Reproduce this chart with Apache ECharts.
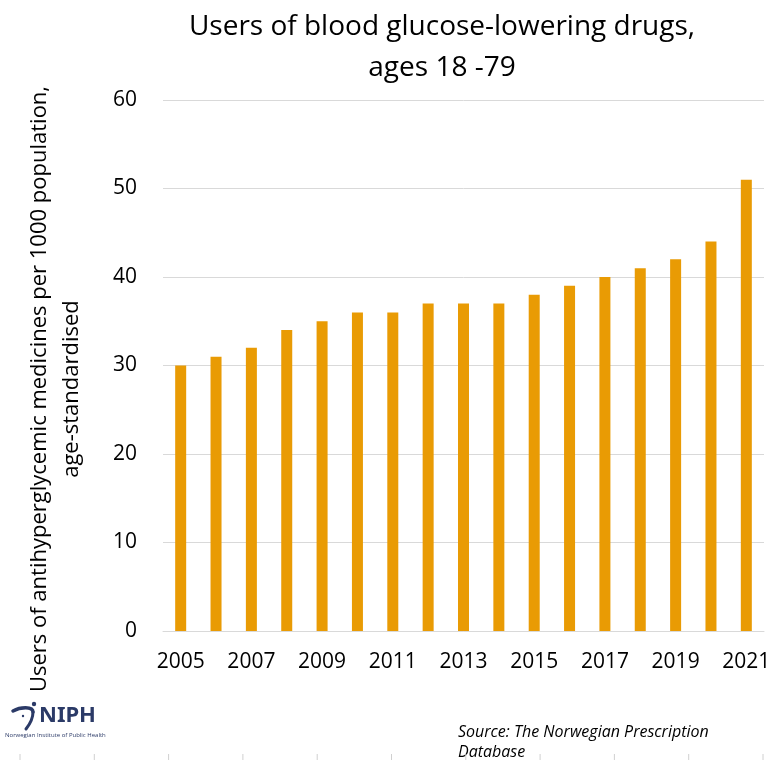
<!DOCTYPE html>
<html>
<head>
<meta charset="utf-8">
<script src="https://cdn.jsdelivr.net/npm/echarts@6/dist/echarts.min.js"></script>
<style>
html,body{margin:0;padding:0;background:#fff;}
#chart{width:777px;height:762px;}
</style>
</head>
<body>
<div id="chart"></div>
<script>
const years = ['2005','2006','2007','2008','2009','2010','2011','2012','2013','2014','2015','2016','2017','2018','2019','2020','2021'];
const users = [30,31,32,34,35,36,36,37,37,37,38,39,40,41,42,44,51];
const yTicks = [0,10,20,30,40,50,60];

const FONT = '"Open Sans", "Noto Sans", sans-serif';
const chart = echarts.init(document.getElementById('chart'));

const ticks = [];
for (let i = 0; i < 11; i++) {
  ticks.push({type:'line', shape:{x1:20+i*74.3, y1:754, x2:20+i*74.3, y2:760}, style:{stroke:'#d0d0d0', lineWidth:1}});
}

chart.setOption({
  animation:false,
  title:{
    text:'Users of blood glucose-lowering drugs,\nages 18 -79',
    left:437, top:2, textAlign:'center',
    textStyle:{fontFamily:FONT, fontSize:28, fontWeight:'normal', color:'#000', lineHeight:41}
  },
  grid:{left:163, right:13, top:100, bottom:131, containLabel:false},
  xAxis:{
    type:'category', data:years,
    axisLine:{show:true, lineStyle:{color:'#d9d9d9', width:1}},
    axisTick:{show:false},
    axisLabel:{interval:1, margin:21, fontFamily:FONT, fontSize:21, color:'#000'}
  },
  yAxis:{
    type:'value', min:0, max:60, interval:10,
    axisLine:{show:false}, axisTick:{show:false},
    splitLine:{lineStyle:{color:'#d9d9d9', width:1}},
    axisLabel:{margin:26, fontFamily:FONT, fontSize:21, color:'#000',
      formatter: v => yTicks.includes(v) ? String(v) : ''}
  },
  series:[{
    type:'bar', data:users, barWidth:11,
    itemStyle:{color:'#E99B04'}
  }],
  graphic:[
    {type:'text', x:56, y:389, rotation:Math.PI/2,
      style:{text:'Users of antihyperglycemic medicines per 1000 population,\nage-standardised',
        textAlign:'center', textVerticalAlign:'middle', fontFamily:FONT, fontSize:22, lineHeight:32, fill:'#000'}},
    {type:'text', x:39, y:705,
      style:{text:'NIPH', fontFamily:'"Noto Sans", sans-serif', fontSize:22, fontWeight:'bold', fill:'#2b3a67'}},
    {type:'bezierCurve', shape:{x1:13, y1:711, cpx1:20, cpy1:707, cpx2:33, cpy2:706, x2:33, y2:712},
      style:{stroke:'#2b3a67', lineWidth:3.5, fill:null, lineCap:'round'}},
    {type:'bezierCurve', shape:{x1:33, y1:712, cpx1:33, cpy1:718, cpx2:30, cpy2:724, x2:26, y2:729},
      style:{stroke:'#2b3a67', lineWidth:3, fill:null, lineCap:'round'}},
    {type:'circle', shape:{cx:34, cy:704, r:2.2}, style:{fill:'#2b3a67'}},
    {type:'circle', shape:{cx:23, cy:716, r:1.2}, style:{fill:'#2b3a67'}},
    {type:'text', x:5, y:732,
      style:{text:'Norwegian Institute of Public Health', fontFamily:FONT, fontSize:6, fill:'#2b3a67'}},
    {type:'text', x:458, y:722,
      style:{text:'Source: The Norwegian Prescription\nDatabase', fontFamily:FONT, fontSize:16, fontStyle:'italic', lineHeight:20, fill:'#000'}}
  ].concat(ticks)
});
</script>
</body>
</html>
